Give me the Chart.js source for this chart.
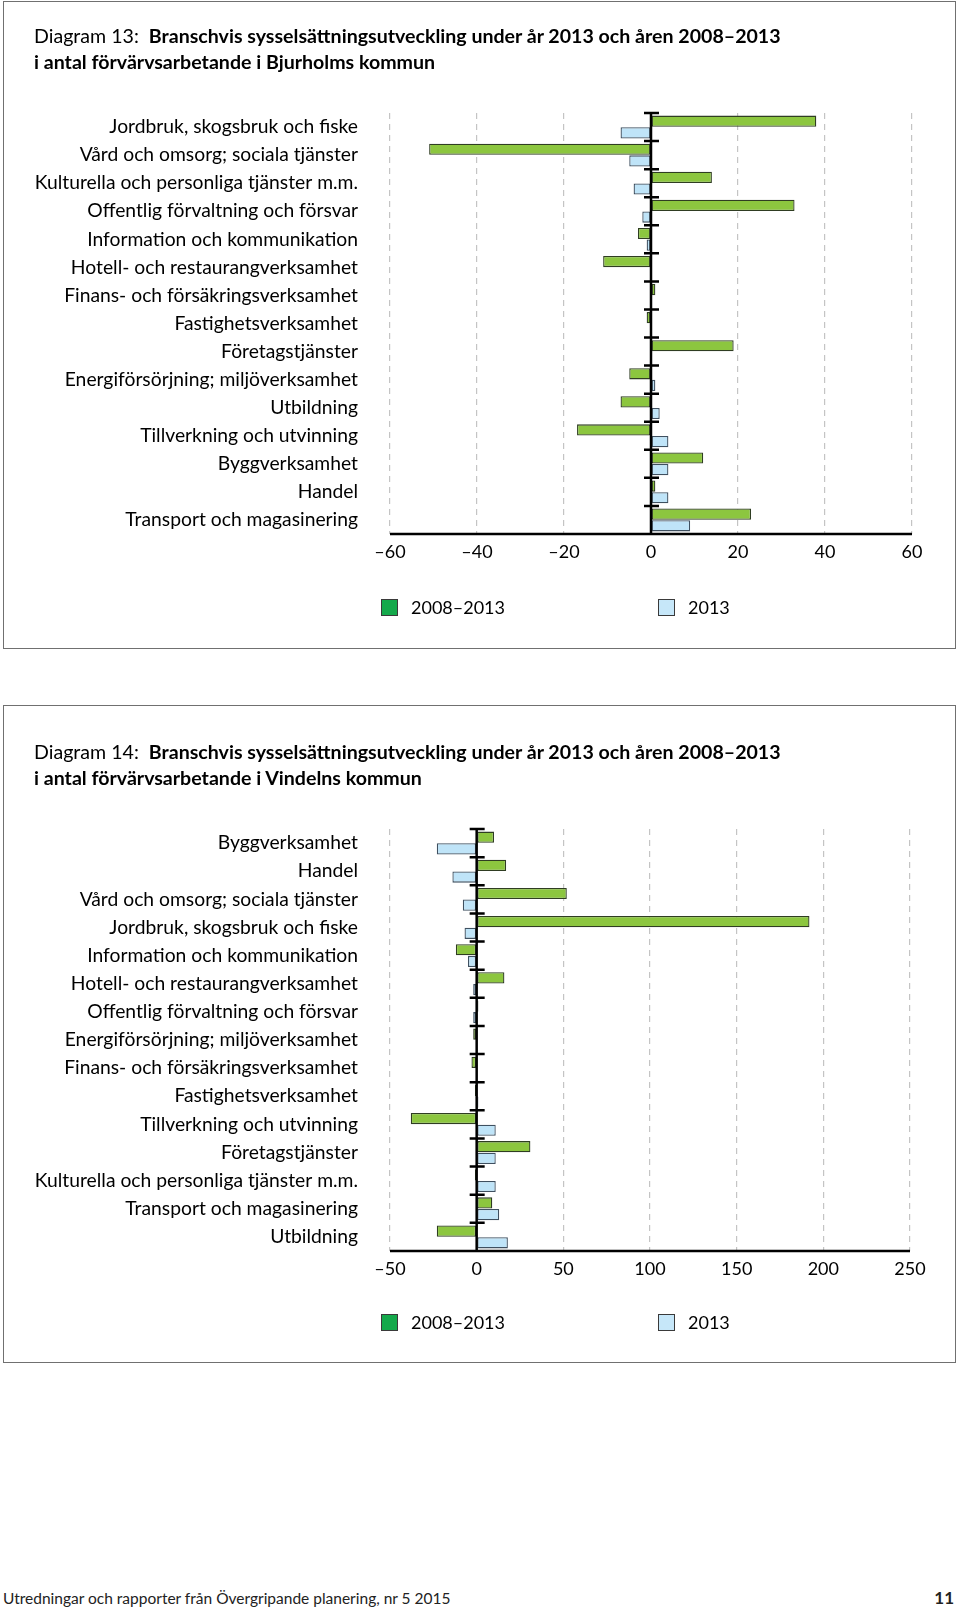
<!DOCTYPE html>
<html>
<head>
<meta charset="utf-8">
<script src="https://cdn.jsdelivr.net/npm/chart.js@4/dist/chart.umd.min.js"></script>
<style>
body { margin:0; width:960px; height:1609px; position:relative; background:#fff; font-family:Lato, sans-serif; color:#000; }
.panel { position:absolute; left:3px; width:953px; border:1.5px solid #707070; box-sizing:border-box; }
.title { position:absolute; left:34px; font-size:19.6px; line-height:26px; z-index:2; white-space:nowrap; }
canvas { position:absolute; left:0; }
.foot { position:absolute; top:1589px; font-size:15.5px; color:#222; }
</style>
</head>
<body>
<div class="panel" style="top:1px;height:648px"></div>
<div class="panel" style="top:705px;height:658px"></div>
<div class="title" style="top:23px">Diagram 13:&nbsp; <b>Branschvis sysselsättningsutveckling under år 2013 och åren 2008–2013</b><br><b>i antal förvärvsarbetande i Bjurholms kommun</b></div>
<div class="title" style="top:739px">Diagram 14:&nbsp; <b>Branschvis sysselsättningsutveckling under år 2013 och åren 2008–2013</b><br><b>i antal förvärvsarbetande i Vindelns kommun</b></div>
<canvas id="bjurholm" width="960" height="650" style="top:0"></canvas>
<canvas id="vindeln" width="960" height="670" style="top:700px"></canvas>
<div class="foot" style="left:3px">Utredningar och rapporter från Övergripande planering, nr 5 2015</div>
<div class="foot" style="right:6px;font-weight:bold;font-size:17px;top:1587px">11</div>
<script>
// Diagram 13 - Bjurholm
const bjurCats = ['Jordbruk, skogsbruk och fiske', 'Vård och omsorg; sociala tjänster', 'Kulturella och personliga tjänster m.m.',
  'Offentlig förvaltning och försvar', 'Information och kommunikation', 'Hotell- och restaurangverksamhet',
  'Finans- och försäkringsverksamhet', 'Fastighetsverksamhet', 'Företagstjänster', 'Energiförsörjning; miljöverksamhet',
  'Utbildning', 'Tillverkning och utvinning', 'Byggverksamhet', 'Handel', 'Transport och magasinering'];
const bjur0813 = [38, -51, 14, 33, -3, -11, 1, -1, 19, -5, -7, -17, 12, 1, 23];
const bjur2013 = [-7, -5, -4, -2, -1, 0, 0, 0, 0, 1, 2, 4, 4, 4, 9];
const bjurTicks = [-60, -40, -20, 0, 20, 40, 60];

// Diagram 14 - Vindeln
const vindCats = ['Byggverksamhet', 'Handel', 'Vård och omsorg; sociala tjänster', 'Jordbruk, skogsbruk och fiske',
  'Information och kommunikation', 'Hotell- och restaurangverksamhet', 'Offentlig förvaltning och försvar',
  'Energiförsörjning; miljöverksamhet', 'Finans- och försäkringsverksamhet', 'Fastighetsverksamhet',
  'Tillverkning och utvinning', 'Företagstjänster', 'Kulturella och personliga tjänster m.m.',
  'Transport och magasinering', 'Utbildning'];
const vind0813 = [10, 17, 52, 192, -12, 16, 1, -2, -3, -1, -38, 31, -1, 9, -23];
const vind2013 = [-23, -14, -8, -7, -5, -2, -2, 0, 0, 1, 11, 11, 11, 13, 18];
const vindTicks = [-50, 0, 50, 100, 150, 200, 250];

const seriesNames = ['2008–2013', '2013'];
const green = '#8cc63f', blue = '#bfe4f8';
const legendFill = ['#14a94b', '#c6e7f9'];

// zero axis with tick marks, bottom axis line and the legend row
const axisPlugin = {
  id: 'axisPlugin',
  afterDatasetsDraw(chart) {
    const {ctx, chartArea: a, scales: {x, y}} = chart;
    const x0 = x.getPixelForValue(0);
    const step = (a.bottom - a.top) / chart.data.labels.length;
    ctx.save();
    ctx.strokeStyle = '#000';
    ctx.lineWidth = 2.5;
    ctx.beginPath();
    ctx.moveTo(x0, a.top - 1);
    ctx.lineTo(x0, a.bottom);
    for (let i = 0; i < chart.data.labels.length; i++) {
      const ty = a.top + i * step;
      ctx.moveTo(x0 - 7, ty);
      ctx.lineTo(x0 + 8, ty);
    }
    ctx.moveTo(a.left, a.bottom);
    ctx.lineTo(a.right, a.bottom);
    ctx.stroke();
    ctx.restore();
  },
  afterDraw(chart) {
    const {ctx, chartArea: a} = chart;
    const ly = a.bottom + chart.options.plugins.axisPlugin.legendOffset;
    const xs = [a.left - 9, a.left + 268];
    ctx.save();
    ctx.font = '18px Lato';
    ctx.textBaseline = 'middle';
    chart.data.datasets.forEach((ds, i) => {
      ctx.fillStyle = legendFill[i];
      ctx.fillRect(xs[i], ly - 8, 17, 17);
      ctx.strokeStyle = '#3a3a3a';
      ctx.lineWidth = 1;
      ctx.strokeRect(xs[i] + 0.5, ly - 7.5, 16, 16);
      ctx.fillStyle = '#000';
      ctx.fillText(ds.label, xs[i] + 30, ly + 1);
    });
    ctx.restore();
  }
};

function makeChart(id, cats, a, b, ticks, pad, legendOffset) {
  return new Chart(document.getElementById(id), {
    type: 'bar',
    data: {
      labels: cats,
      datasets: [
        {label: seriesNames[0], data: a, backgroundColor: green, borderColor: '#2f3d22', borderWidth: 1.3, borderSkipped: false},
        {label: seriesNames[1], data: b, backgroundColor: blue, borderColor: '#3f5060', borderWidth: 1.3, borderSkipped: false}
      ]
    },
    options: {
      indexAxis: 'y',
      responsive: false,
      animation: false,
      layout: {padding: pad},
      categoryPercentage: 0.83,
      barPercentage: 0.96,
      plugins: {
        legend: {display: false},
        tooltip: {enabled: false},
        axisPlugin: {legendOffset: legendOffset}
      },
      scales: {
        x: {
          min: ticks[0],
          max: ticks[ticks.length - 1],
          afterBuildTicks: s => { s.ticks = ticks.map(v => ({value: v})); },
          afterFit: s => { s.height = 40; },
          grid: {color: '#c4c4c4', lineWidth: 1.2, drawTicks: false},
          border: {display: false, dash: [6, 5]},
          ticks: {
            padding: 7,
            color: '#000',
            font: {family: 'Lato', size: 18},
            callback: v => v < 0 ? '\u2013' + Math.abs(v) : String(v)
          }
        },
        y: {
          afterFit: s => { s.width = 390; },
          grid: {display: false, drawTicks: false},
          border: {display: false},
          ticks: {padding: 32, color: '#000', font: {family: 'Lato', size: 19.3}, autoSkip: false}
        }
      }
    },
    plugins: [axisPlugin]
  });
}

makeChart('bjurholm', bjurCats, bjur0813, bjur2013, bjurTicks, {top: 113, right: 48, bottom: 76, left: 0}, 73);
makeChart('vindeln', vindCats, vind0813, vind2013, vindTicks, {top: 129, right: 50, bottom: 79, left: 0}, 71);
</script>
</body>
</html>
